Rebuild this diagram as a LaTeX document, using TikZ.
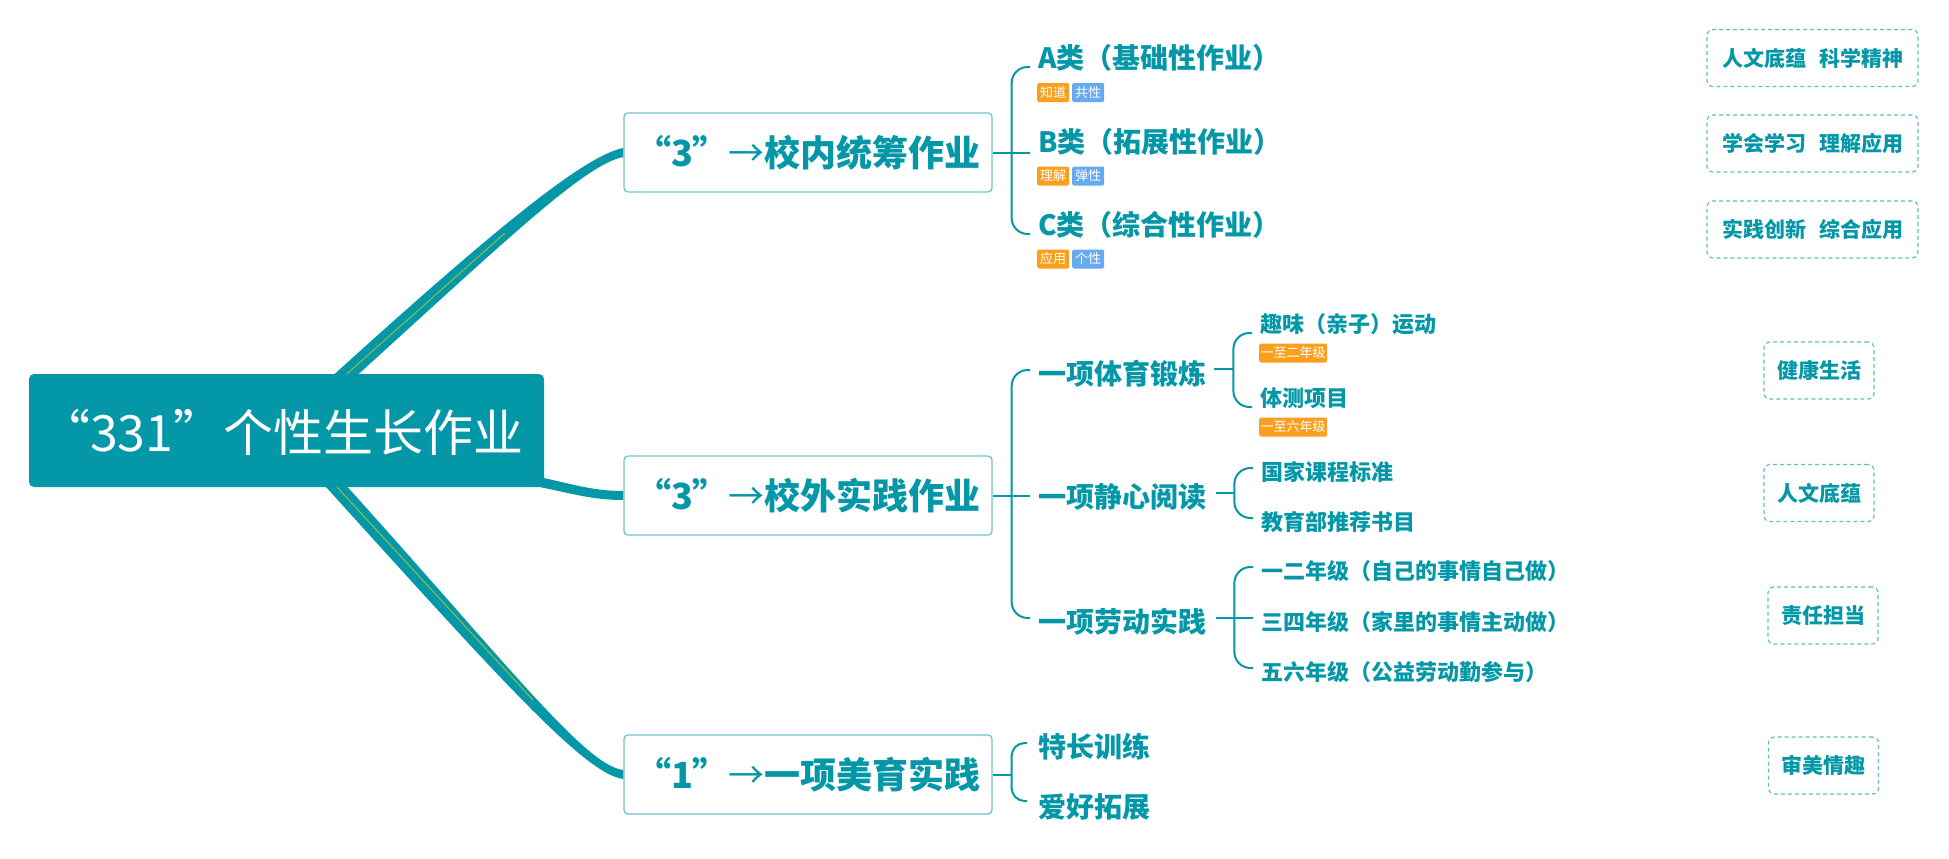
\documentclass[tikz,border=0pt]{standalone}
\usepackage{fontspec}
\newfontfamily\cjk{Noto Sans CJK SC}
\usetikzlibrary{calc}
\pgfdeclarelayer{bg}
\pgfsetlayers{bg,main}
\definecolor{tealA}{RGB}{3,151,167}
\definecolor{tealL}{RGB}{112,196,206}
\definecolor{tealD}{RGB}{96,190,200}
\definecolor{tagO}{RGB}{250,160,30}
\definecolor{tagB}{RGB}{102,170,240}
\definecolor{yel}{RGB}{150,190,60}
\begin{document}
\begin{tikzpicture}[x=1pt,y=-1pt,
  rootbox/.style={fill=tealA, rounded corners=5pt, minimum width=515pt, minimum height=113pt, inner sep=0pt},
  roottxt/.style={text=white, font=\cjk\fontsize{50}{53}\selectfont, inner sep=0pt, anchor=west},
  mainbox/.style={draw=tealL, line width=1.3pt, fill=white, rounded corners=4pt, minimum width=368pt, minimum height=79pt, inner sep=0pt, text=tealA, font=\cjk\bfseries\fontsize{36}{40}\selectfont},
  big/.style={text=tealA, font=\cjk\bfseries\fontsize{28}{30}\selectfont, inner sep=0pt, anchor=west},
  small/.style={text=tealA, font=\cjk\bfseries\fontsize{22}{24}\selectfont, inner sep=0pt, anchor=west},
  tagbox/.style={fill=tagO, rounded corners=2pt, text=white, font=\cjk\fontsize{13}{14}\selectfont, minimum height=19pt, inner sep=0pt, minimum width=32pt, anchor=west},
  dbox/.style={draw=tealD, dash pattern=on 4pt off 3pt, line width=1.2pt, rounded corners=6pt, text=tealA, font=\cjk\bfseries\fontsize{21}{24}\selectfont, minimum height=57pt, inner sep=0pt},
  br/.style={draw=tealA, line width=2pt, rounded corners=16pt},
  trunk/.style={fill=tealA},
  glint/.style={draw=yel, line width=1pt},
]
\useasboundingbox (0,0) rectangle (1949,859);

% root
\node[rootbox] (root) at (286.5,430.5) {};
\node[roottxt] (roott) at (40,432) {“331”个性生长作业};

% main boxes
\node[mainbox] (b1) at (808,152.5) {“3”{\mdseries →}校内统筹作业};
\node[mainbox] (b2) at (808,495.5) {“3”{\mdseries →}校外实践作业};
\node[mainbox] (b3) at (808,774.5) {“1”{\mdseries →}一项美育实践};

% trunk connectors
\coordinate (c1) at (340,380);
\coordinate (g1) at (505,233);
\coordinate (c2) at (515,478);
\coordinate (c3) at (325,474);
\coordinate (g3) at (533,700);
\begin{pgfonlayer}{bg}
\fill[trunk] ($(b1.west)+(0,-4.5)$) .. controls +(-39,7.5) and +(160,-145) .. ($(c1)+(-5.4,-6)$)
   -- ($(c1)+(5.4,6)$) .. controls +(160,-145) and +(-39,7.5) .. ($(b1.west)+(0,4.5)$) -- cycle;
\draw[glint] (c1) -- (g1);
\fill[trunk] ($(b2.west)+(0,-4.5)$) .. controls +(-40,0) and +(45,6) .. ($(c2)+(0,-5)$)
   -- ($(c2)+(0,5)$) .. controls +(45,6) and +(-40,0) .. ($(b2.west)+(0,4.5)$) -- cycle;
\fill[trunk] ($(b3.west)+(0,4.5)$) .. controls +(-39,-4.5) and +(175,193) .. ($(c3)+(-5.9,5.4)$)
   -- ($(c3)+(5.9,-5.4)$) .. controls +(175,193) and +(-39,-4.5) .. ($(b3.west)+(0,-4.5)$) -- cycle;
\draw[glint] (c3) -- (g3);
\end{pgfonlayer}

% box 1 children
\node[big] (A) at (1038,58) {A类（基础性作业）};
\node[big] (B) at (1038,142) {B类（拓展性作业）};
\node[big] (C) at (1038,225) {C类（综合性作业）};
\node[tagbox] (tA1) at (1037,92.5) {知道};
\node[tagbox, fill=tagB] (tA2) at (1072,92.5) {共性};
\node[tagbox] (tB1) at (1037,176) {理解};
\node[tagbox, fill=tagB] (tB2) at (1072,176) {弹性};
\node[tagbox] (tC1) at (1037,259) {应用};
\node[tagbox, fill=tagB] (tC2) at (1072,259) {个性};
\coordinate (j1) at ($(b1.east)+(19,0)$);
\coordinate (eA) at ($(A.west)+(-8,9)$);
\coordinate (eC) at ($(C.west)+(-8,9)$);
\draw[br] (b1.east) -- (j1);
\draw[br] (j1) -- (j1 -| eA);
\draw[br] (j1) |- (eA);
\draw[br] (j1) |- (eC);

% box 2 children
\node[big] (P1) at (1038,374) {一项体育锻炼};
\node[big] (P2) at (1038,497) {一项静心阅读};
\node[big] (P3) at (1038,622) {一项劳动实践};
\coordinate (j2) at ($(b2.east)+(19,0)$);
\coordinate (eP1) at ($(P1.west)+(-8,-4)$);
\coordinate (eP3) at ($(P3.west)+(-8,-4)$);
\draw[br] (b2.east) -- (j2);
\draw[br] (j2) -- (j2 -| eP1);
\draw[br] (j2) |- (eP1);
\draw[br] (j2) |- (eP3);

\node[small] (S1) at (1260,324) {趣味（亲子）运动};
\node[small] (S2) at (1260,398) {体测项目};
\node[tagbox, minimum width=68pt] (tS1) at (1259,353) {一至二年级};
\node[tagbox, minimum width=68pt] (tS2) at (1259,427) {一至六年级};
\coordinate (k1s) at ($(P1.east)+(8,-5)$);
\coordinate (k1) at ($(k1s)+(19,0)$);
\coordinate (eS1) at ($(S1.west)+(-8,9)$);
\coordinate (eS2) at ($(S2.west)+(-8,9)$);
\draw[br] (k1s) -- (k1);
\draw[br] (k1) |- (eS1);
\draw[br] (k1) |- (eS2);

\node[small] (S3) at (1261,472) {国家课程标准};
\node[small] (S4) at (1261,522) {教育部推荐书目};
\coordinate (k2s) at ($(P2.east)+(10,-4)$);
\coordinate (k2) at ($(k2s)+(18,0)$);
\coordinate (eS3) at ($(S3.west)+(-8,-4)$);
\coordinate (eS4) at ($(S4.west)+(-8,-4)$);
\draw[br] (k2s) -- (k2);
\draw[br] (k2) |- (eS3);
\draw[br] (k2) |- (eS4);

\node[small] (S5) at (1261,571) {一二年级（自己的事情自己做）};
\node[small] (S6) at (1261,622) {三四年级（家里的事情主动做）};
\node[small] (S7) at (1261,672) {五六年级（公益劳动勤参与）};
\coordinate (k3s) at ($(P3.east)+(10,-4)$);
\coordinate (k3) at ($(k3s)+(18,0)$);
\coordinate (eS5) at ($(S5.west)+(-8,-4)$);
\coordinate (eS7) at ($(S7.west)+(-8,-4)$);
\draw[br] (k3s) -- (k3);
\draw[br] (k3) -- (k3 -| eS5);
\draw[br] (k3) |- (eS5);
\draw[br] (k3) |- (eS7);

% box 3 children
\node[big] (T1) at (1038,747) {特长训练};
\node[big] (T2) at (1038,807) {爱好拓展};
\coordinate (j3) at ($(b3.east)+(19,0)$);
\coordinate (eT1) at ($(T1.west)+(-11,-4)$);
\coordinate (eT2) at ($(T2.west)+(-11,-6)$);
\draw[br] (b3.east) -- (j3);
\draw[br, rounded corners=13pt] (j3) |- (eT1);
\draw[br, rounded corners=13pt] (j3) |- (eT2);

% right dashed boxes
\node[dbox, minimum width=211pt] (r1) at (1812.5,58) {人文底蕴\hspace{13pt}科学精神};
\node[dbox, minimum width=211pt] (r2) at (1812.5,143.5) {学会学习\hspace{13pt}理解应用};
\node[dbox, minimum width=211pt] (r3) at (1812.5,229.5) {实践创新\hspace{13pt}综合应用};
\node[dbox, minimum width=110pt] (r4) at (1819,370.5) {健康生活};
\node[dbox, minimum width=110pt] (r5) at (1819,493) {人文底蕴};
\node[dbox, minimum width=110pt] (r6) at (1823,615.5) {责任担当};
\node[dbox, minimum width=110pt] (r7) at (1823.5,765.5) {审美情趣};
\end{tikzpicture}
\end{document}
